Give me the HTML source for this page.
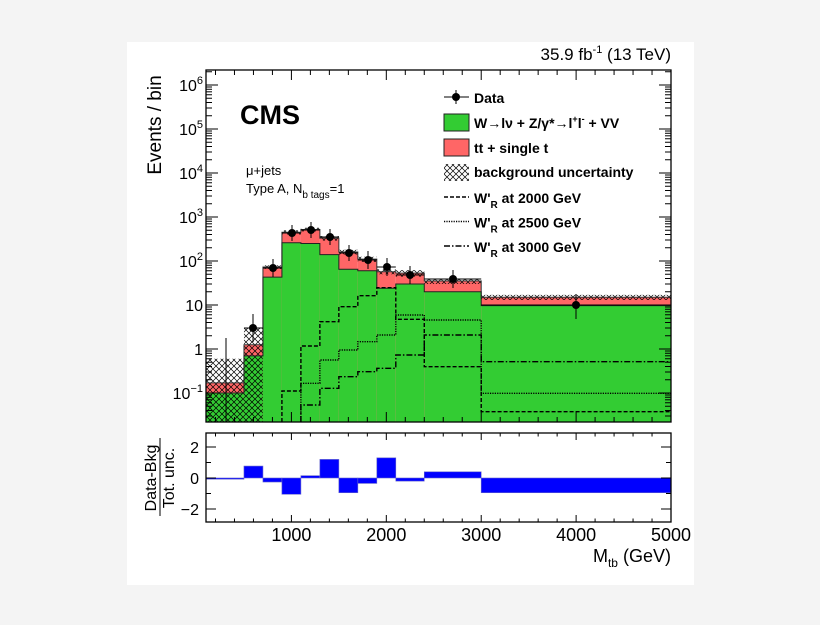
<!DOCTYPE html>
<html><head><meta charset="utf-8"><style>
html,body{margin:0;padding:0;background:#f4f4f4;}
svg{display:block;font-family:"Liberation Sans",sans-serif;}
</style></head><body>
<svg id="s" width="820" height="625" xmlns="http://www.w3.org/2000/svg">
<defs>
<pattern id="h" width="6" height="6" patternUnits="userSpaceOnUse">
<path d="M0,0L6,6M6,0L0,6" stroke="#000" stroke-width="0.7"/>
</pattern>
<clipPath id="c"><rect x="206" y="70" width="465" height="352"/></clipPath>
</defs>
<rect x="127" y="42" width="567" height="543" fill="#fff"/>
<g id="g"></g>
</svg>
<script>
var X=function(v){return 206+(v-100)*0.0949;};
var Y=function(v){return 349-44*Math.log10(v);};
var R=function(v){return 478-15.5*v;};
var E=[100,500,700,900,1100,1300,1500,1700,1900,2100,2400,3000,5000];
var green=[0.1,0.7,43,260,250,140,65,60,24,30,20,9.7];
var red=[0.17,1.25,73,450,520,330,160,110,57,53,35,15];
var uhi=[0.6,3,80,500,570,370,180,125,65,62,40,17];
var ulo=[0.022,0.022,66,400,470,290,140,95,50,44,30,13];
var s='';
var bot=422;
s+='<g clip-path="url(#c)">';
for(var i=0;i<12;i++){
 var x0=X(E[i]),x1=X(E[i+1]);
 s+='<rect x="'+x0+'" y="'+Y(red[i])+'" width="'+(x1-x0)+'" height="'+(bot-Y(red[i]))+'" fill="#ff6666"/>';
 s+='<rect x="'+x0+'" y="'+Y(green[i])+'" width="'+(x1-x0)+'" height="'+(bot-Y(green[i]))+'" fill="#33cc33"/>';
 s+='<rect x="'+x0+'" y="'+Y(uhi[i])+'" width="'+(x1-x0)+'" height="'+(Y(ulo[i])-Y(uhi[i]))+'" fill="url(#h)"/>';
}
function step(vals,dash,start){
 var d='';
 for(var i=start;i<12;i++){
  var y=Y(vals[i]);
  d+=(i==start?'M'+X(E[i])+','+bot+'L':'L')+X(E[i])+','+y+'L'+X(E[i+1])+','+y;
 }
 return '<path d="'+d+'" fill="none" stroke="#000" stroke-width="1.4" stroke-dasharray="'+dash+'"/>';
}
function outline(vals,col,w){
 var d='M206,'+bot;
 for(var i=0;i<12;i++){var y=Y(vals[i]);d+='L'+X(E[i])+','+y+'L'+X(E[i+1])+','+y;}
 return '<path d="'+d+'" fill="none" stroke="'+col+'" stroke-width="'+w+'"/>';
}
s+=outline(red,'#333',1)+outline(green,'#222',1);
var toY=function(p){return Math.pow(10,(349-(p/3+60))/44);};
var s2000=[0,0,0,993,858,785,740,707,683,778,920,1055].map(toY);
var s2500=[0,0,0,0,970,900,870,845,825,765,780,1000].map(toY);
var s3000=[0,0,0,0,1035,985,950,935,925,885,825,905].map(toY);
s+=step(s2000,'4,2',3)+step(s2500,'1.2,1.2',4)+step(s3000,'6,2,1.5,2',4);
s+='</g>';
var D=[[253,328,320,336],[273,268,265,271],[292,233,231,235],[311,230,228,232],[330,237,235,239],[349,253,251,255],[368,260,257,263],[387,267,264,270],[410,275,272,278],[453,279,276,282],[576,305,300,313]];
s+='<line x1="226" y1="338" x2="226" y2="422" stroke="#000"/>';
D.forEach(function(d,i){
 var x0=X(E[i+1]),x1=X(E[i+2]);
 s+='<line x1="'+x0+'" y1="'+d[1]+'" x2="'+x1+'" y2="'+d[1]+'" stroke="#000"/>';
 s+='<line x1="'+d[0]+'" y1="'+(d[2]-6)+'" x2="'+d[0]+'" y2="'+(d[3]+6)+'" stroke="#000"/>';
 s+='<circle cx="'+d[0]+'" cy="'+d[1]+'" r="4" fill="#000"/>';
});
s+='<rect x="206" y="70" width="465" height="352" fill="none" stroke="#000" stroke-width="1.3"/>';
for(var e=-2;e<=6;e++){for(var m=1;m<10;m++){var v=m*Math.pow(10,e);var y=Y(v);if(y<70||y>422)continue;var L=(m==1)?12:6;
 s+='<line x1="206" y1="'+y+'" x2="'+(206+L)+'" y2="'+y+'" stroke="#000"/><line x1="671" y1="'+y+'" x2="'+(671-L)+'" y2="'+y+'" stroke="#000"/>';}}
var lab=[[6,'10<tspan dy="-7" font-size="11">6</tspan>'],[5,'10<tspan dy="-7" font-size="11">5</tspan>'],[4,'10<tspan dy="-7" font-size="11">4</tspan>'],[3,'10<tspan dy="-7" font-size="11">3</tspan>'],[2,'10<tspan dy="-7" font-size="11">2</tspan>'],[1,'10'],[0,'1'],[-1,'10<tspan dy="-7" font-size="11">−1</tspan>']];
lab.forEach(function(l){var y=Y(Math.pow(10,l[0]))+6;
 s+='<text x="203" y="'+y+'" font-size="16" text-anchor="end">'+l[1]+'</text>';});
for(var v=200;v<=5000;v+=200){var x=X(v);var L=(v%1000==0)?10:5;
 s+='<line x1="'+x+'" y1="422" x2="'+x+'" y2="'+(422-L)+'" stroke="#000"/><line x1="'+x+'" y1="70" x2="'+x+'" y2="'+(70+L)+'" stroke="#000"/>';
 s+='<line x1="'+x+'" y1="522" x2="'+x+'" y2="'+(522-L*0.7)+'" stroke="#000"/><line x1="'+x+'" y1="433" x2="'+x+'" y2="'+(433+L*0.7)+'" stroke="#000"/>';}
var rv=[-0.05,0.77,-0.26,-1.05,0.15,1.2,-0.95,-0.35,1.3,-0.2,0.4,-0.95];
for(var i=0;i<12;i++){var x0=X(E[i]),x1=X(E[i+1]);var a=R(Math.max(rv[i],0)),b=R(Math.min(rv[i],0));
 s+='<rect x="'+x0+'" y="'+a+'" width="'+(x1-x0)+'" height="'+Math.max(b-a,1.2)+'" fill="#0000ff" stroke="#6666cc" stroke-width="0.6"/>';}
s+='<rect x="206" y="433" width="465" height="89" fill="none" stroke="#000" stroke-width="1.3"/>';
[-2,-1,0,1,2].forEach(function(v){var y=R(v);var L=(v%2==0)?10:5;
 s+='<line x1="206" y1="'+y+'" x2="'+(206+L)+'" y2="'+y+'" stroke="#000"/><line x1="671" y1="'+y+'" x2="'+(671-L)+'" y2="'+y+'" stroke="#000"/>';
 if(v%2==0)s+='<text x="199" y="'+(y+6)+'" font-size="16" text-anchor="end">'+(v<0?'−2':v)+'</text>';});
[1000,2000,3000,4000,5000].forEach(function(v){s+='<text x="'+X(v)+'" y="541" font-size="18" text-anchor="middle">'+v+'</text>';});
s+='<text x="671" y="562" font-size="18" text-anchor="end">M<tspan font-size="12" dy="5">tb</tspan><tspan dy="-5"> (GeV)</tspan></text>';
s+='<text x="671" y="60" font-size="17" text-anchor="end">35.9 fb<tspan dy="-7" font-size="11">-1</tspan><tspan dy="7">  (13 TeV)</tspan></text>';
s+='<text transform="translate(161,125) rotate(-90)" font-size="19" text-anchor="middle">Events / bin</text>';
s+='<text transform="translate(156,478) rotate(-90)" font-size="16" text-anchor="middle">Data-Bkg</text>';
s+='<line x1="160" y1="438" x2="160" y2="516" stroke="#000"/>';
s+='<text transform="translate(174,478) rotate(-90)" font-size="16" text-anchor="middle">Tot. unc.</text>';
s+='<text x="240" y="124" font-size="27" font-weight="bold">CMS</text>';
s+='<text x="246" y="175" font-size="13">μ+jets</text>';
s+='<text x="246" y="193" font-size="13">Type A, N<tspan dy="5" font-size="10">b tags</tspan><tspan dy="-5">=1</tspan></text>';
var lx=444;
s+='<line x1="'+lx+'" y1="97" x2="'+(lx+25)+'" y2="97" stroke="#000"/><line x1="456" y1="90" x2="456" y2="104" stroke="#000"/><circle cx="456" cy="97" r="4"/>';
s+='<text x="474" y="103" font-size="14" font-weight="bold">Data</text>';
s+='<rect x="444" y="114" width="25" height="17" fill="#33cc33" stroke="#222"/>';
s+='<text x="474" y="128" font-size="14" font-weight="bold">W→lν + Z/γ*→l<tspan dy="-6" font-size="9">+</tspan><tspan dy="6">l</tspan><tspan dy="-6" font-size="9">-</tspan><tspan dy="6"> + VV</tspan></text>';
s+='<rect x="444" y="139" width="25" height="17" fill="#ff6666" stroke="#222"/>';
s+='<text x="474" y="153" font-size="14" font-weight="bold">tt + single t</text>';
s+='<rect x="444" y="164" width="25" height="17" fill="url(#h)"/>';
s+='<text x="474" y="177" font-size="14" font-weight="bold">background uncertainty</text>';
var ds=['4,2','1.2,1.2','6,2,1.5,2'],ms=['2000','2500','3000'];
for(var i=0;i<3;i++){var y=197+24.5*i;
 s+='<line x1="444" y1="'+y+'" x2="469" y2="'+y+'" stroke="#000" stroke-width="1.6" stroke-dasharray="'+ds[i]+'"/>';
 s+='<text x="474" y="'+(y+6)+'" font-size="14" font-weight="bold">W\'<tspan dy="5" font-size="10">R</tspan><tspan dy="-5"> at '+ms[i]+' GeV</tspan></text>';}
document.getElementById('g').innerHTML=s;
</script>
</body></html>
